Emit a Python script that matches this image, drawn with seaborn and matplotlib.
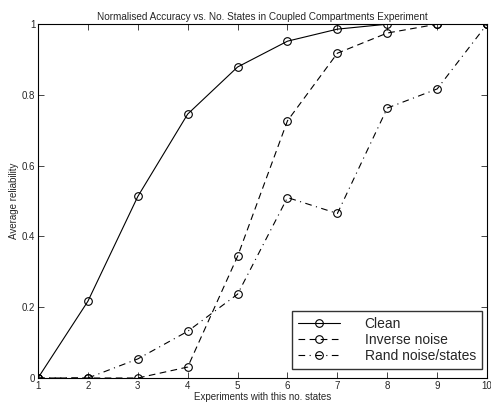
import pandas as pd
import matplotlib
matplotlib.use("Agg")
import matplotlib.pyplot as plt
import seaborn as sns

# data
states = [1, 2, 3, 4, 5, 6, 7, 8, 9, 10]
clean = [0.0, 0.217, 0.513, 0.746, 0.879, 0.952, 0.986, 1.0, 1.0, 1.0]
inverse_noise = [0.0, 0.0, 0.0, 0.031, 0.344, 0.727, 0.918, 0.975, 1.0, 1.0]
rand_noise = [0.0, 0.0, 0.054, 0.132, 0.237, 0.51, 0.465, 0.763, 0.817, 1.0]
series_names = ["Clean", "Inverse noise", "Rand noise/states"]

sns.set_style("ticks")
plt.rcParams['font.family'] = ['Liberation Sans', 'DejaVu Sans']

fig = plt.figure(figsize=(4.91, 4.03), dpi=100)
ax = fig.add_axes([0.0774, 0.062, 0.9146, 0.878])

styles = ['-', (0, (6, 4)), (0, (6, 4, 1, 4))]
for name, vals, ls in zip(series_names, [clean, inverse_noise, rand_noise], styles):
    df = pd.DataFrame({"x": states, "y": vals})
    sns.lineplot(data=df, x="x", y="y", ax=ax, color='black', linewidth=0.8,
                 linestyle=ls, marker='o', markersize=5.5, markerfacecolor='none',
                 markeredgecolor='black', markeredgewidth=0.8, label=name)

ax.set_xlim(1, 10)
ax.set_ylim(0, 1)
ax.set_xticks(states)
ax.set_yticks([0, 0.2, 0.4, 0.6, 0.8, 1])
ax.set_yticklabels(['0', '0.2', '0.4', '0.6', '0.8', '1'])
ax.tick_params(direction='in', top=True, right=True, labelsize=7, length=4,
               width=0.6, pad=2)
for s in ax.spines.values():
    s.set_linewidth(0.8)
    s.set_color('black')

ax.set_title('Normalised Accuracy vs. No. States in Coupled Compartments Experiment',
             fontsize=7.2, pad=3)
ax.set_xlabel('Experiments with this no. states', fontsize=7, labelpad=1)
ax.set_ylabel('Average reliability', fontsize=7, labelpad=2)

leg = ax.legend(loc='lower right', fontsize=10, frameon=True, fancybox=False,
                edgecolor='black', handlelength=3.0, handletextpad=1.8,
                borderpad=0.45, borderaxespad=0, labelspacing=0.15,
                bbox_to_anchor=(0.989, 0.025))
leg.get_frame().set_linewidth(1.0)

fig.savefig("out.png", dpi=100)
